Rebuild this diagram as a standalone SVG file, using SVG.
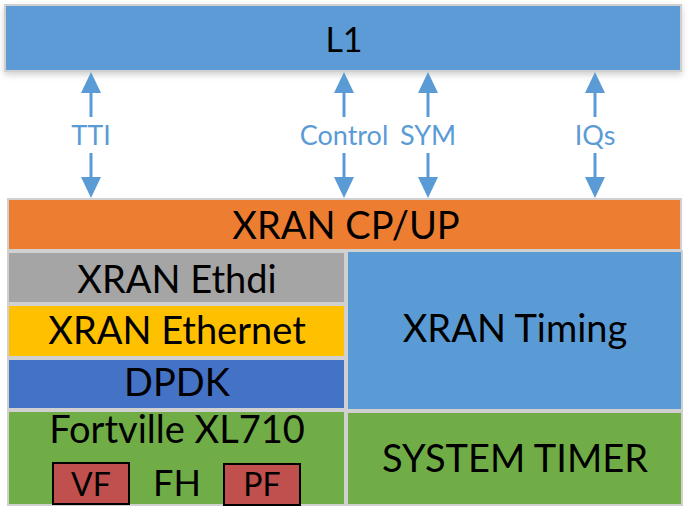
<svg xmlns="http://www.w3.org/2000/svg" width="691" height="511" viewBox="0 0 691 511">
<style>
.box{stroke:#d0d0d0;stroke-width:2}
.t{font-family:Lato,"Open Sans","Liberation Sans",sans-serif;fill:#000;text-anchor:middle}
.lbl{font-family:Lato,"Open Sans","Liberation Sans",sans-serif;fill:#5b9bd5;text-anchor:middle;font-size:27px}
.ar{stroke:#5b9bd5;stroke-width:3;fill:none}
.sm{fill:#c0504d;stroke:#000;stroke-width:2}
</style>
<defs>
<filter id="sh" x="-5%" y="-20%" width="110%" height="150%">
<feDropShadow dx="0" dy="3" stdDeviation="3" flood-color="#000" flood-opacity="0.18"/>
</filter>
</defs>
<rect width="691" height="511" fill="#fff"/>
<g id="L1">
<rect class="box" x="5" y="5" width="676" height="66" fill="#5b9bd5" filter="url(#sh)"/>
<text class="t" x="344" y="52" font-size="34">L1</text>
</g>
<g id="connectors">
<g id="tti">
<line class="ar" x1="91" y1="117" x2="91" y2="93"/><path d="M91,72 L101,93 L81,93 z" fill="#5b9bd5"/>
<line class="ar" x1="91" y1="153" x2="91" y2="177"/><path d="M91,198 L101,177 L81,177 z" fill="#5b9bd5"/>
<text class="lbl" x="91" y="145">TTI</text>
</g>
<g id="control">
<line class="ar" x1="344" y1="117" x2="344" y2="93"/><path d="M344,72 L354,93 L334,93 z" fill="#5b9bd5"/>
<line class="ar" x1="344" y1="153" x2="344" y2="177"/><path d="M344,198 L354,177 L334,177 z" fill="#5b9bd5"/>
<text class="lbl" x="344" y="145">Control</text>
</g>
<g id="sym">
<line class="ar" x1="428" y1="117" x2="428" y2="93"/><path d="M428,72 L438,93 L418,93 z" fill="#5b9bd5"/>
<line class="ar" x1="428" y1="153" x2="428" y2="177"/><path d="M428,198 L438,177 L418,177 z" fill="#5b9bd5"/>
<text class="lbl" x="428" y="145">SYM</text>
</g>
<g id="iqs">
<line class="ar" x1="595" y1="117" x2="595" y2="93"/><path d="M595,72 L605,93 L585,93 z" fill="#5b9bd5"/>
<line class="ar" x1="595" y1="153" x2="595" y2="177"/><path d="M595,198 L605,177 L585,177 z" fill="#5b9bd5"/>
<text class="lbl" x="595" y="145">IQs</text>
</g>
</g>
<g id="cpup">
<rect class="box" x="8" y="199" width="673" height="51" fill="#ed7d31"/>
<text class="t" x="346" y="239" font-size="38">XRAN CP/UP</text>
</g>
<g id="ethdi">
<rect class="box" x="8" y="252" width="337" height="51" fill="#a5a5a5"/>
<text class="t" x="177" y="293" font-size="38">XRAN Ethdi</text>
</g>
<g id="ethernet">
<rect class="box" x="8" y="305" width="337" height="52" fill="#ffc000"/>
<text class="t" x="177" y="344" font-size="38">XRAN Ethernet</text>
</g>
<g id="dpdk">
<rect class="box" x="8" y="359" width="337" height="50" fill="#4472c4"/>
<text class="t" x="177" y="396" font-size="38">DPDK</text>
</g>
<g id="fortville">
<rect class="box" x="8" y="411" width="337" height="94" fill="#70ad47"/>
<text class="t" x="177" y="443" font-size="38">Fortville XL710</text>
<text class="t" x="177" y="496" font-size="36">FH</text>
</g>
<g id="vf">
<rect class="sm" x="53" y="463" width="76" height="41"/>
<text class="t" x="91" y="496" font-size="32">VF</text>
</g>
<g id="pf">
<rect class="sm" x="224" y="464" width="76" height="41"/>
<text class="t" x="262" y="496" font-size="32">PF</text>
</g>
<g id="timing">
<rect class="box" x="347" y="251" width="335" height="159" fill="#5b9bd5"/>
<text class="t" x="515" y="342" font-size="38">XRAN Timing</text>
</g>
<g id="systimer">
<rect class="box" x="347" y="412" width="335" height="93" fill="#70ad47"/>
<text class="t" x="515" y="472" font-size="38">SYSTEM TIMER</text>
</g>
</svg>
